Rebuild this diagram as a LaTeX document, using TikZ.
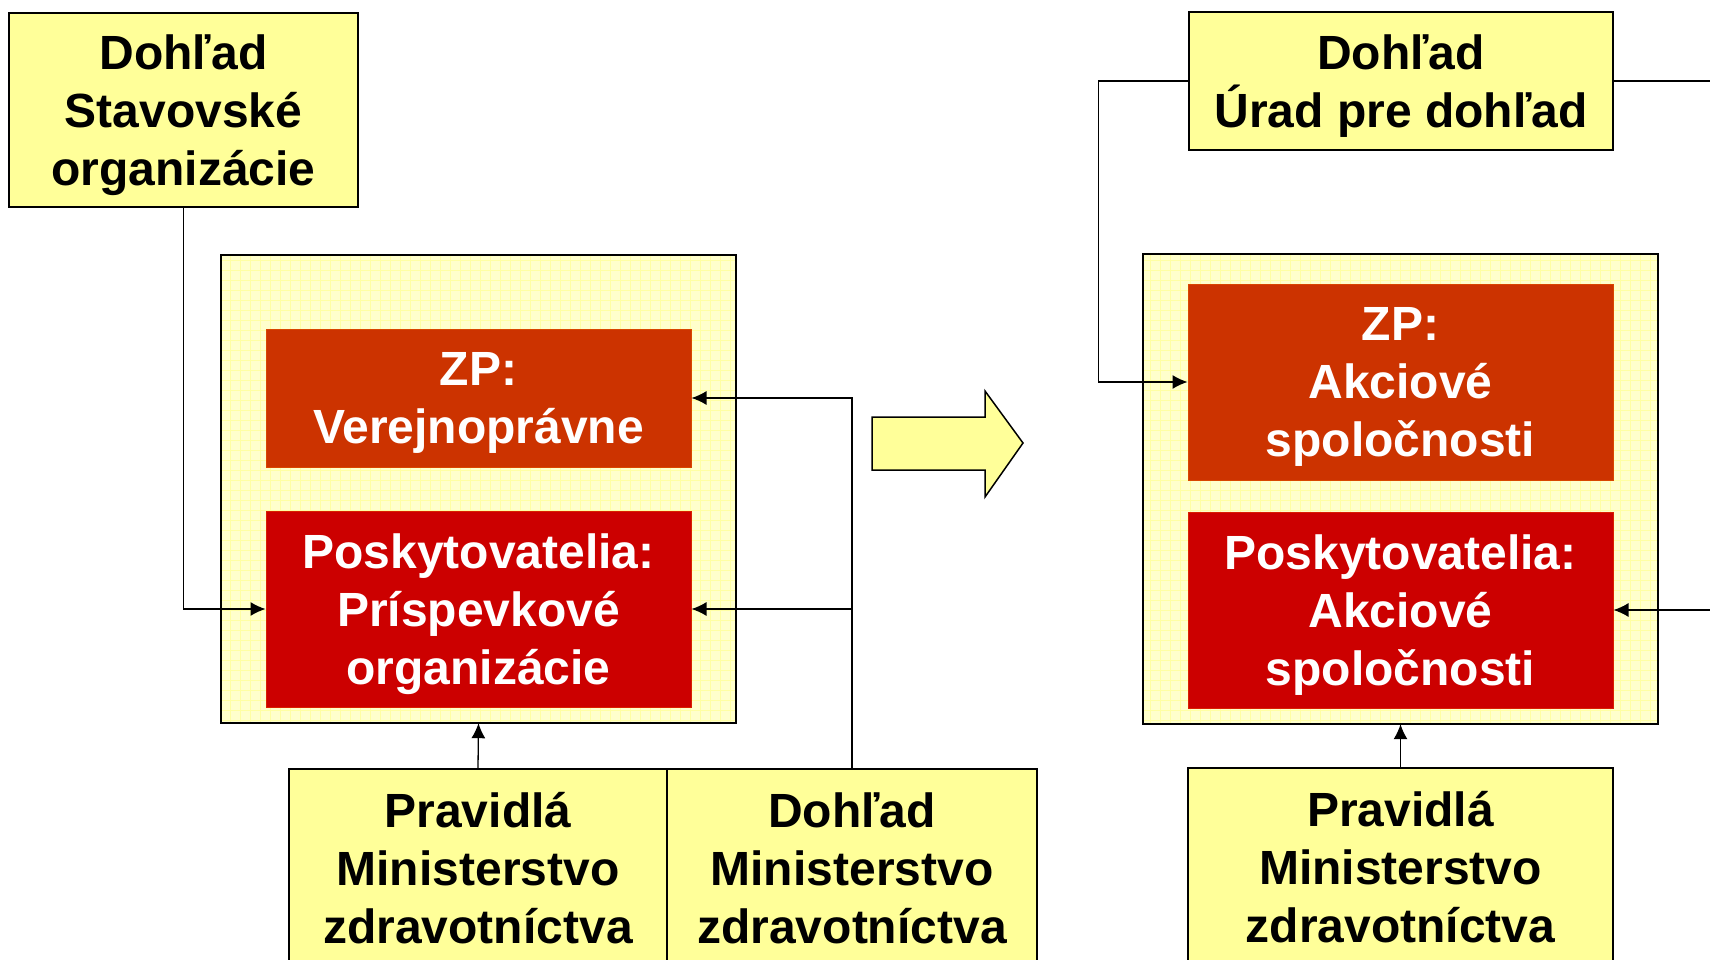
\documentclass[tikz,border=0pt]{standalone}
\usepackage{fontspec}
\setmainfont{Liberation Sans}
\usetikzlibrary{arrows.meta}
\definecolor{boxyel}{HTML}{FFFF99}
\definecolor{paleyel}{HTML}{FFFFCC}
\definecolor{gridyel}{HTML}{FFFFA3}
\definecolor{zpred}{HTML}{CC3300}
\definecolor{poskred}{HTML}{CC0000}
\tikzset{
  bigtext/.style={align=center, text depth=0pt, font=\fontsize{48}{58}\selectfont\bfseries},
  yelbox/.style={bigtext, draw=black, line width=1.5pt, fill=boxyel, inner sep=0pt},
  holder/.style={fill=paleyel, inner sep=0pt},
  redbox/.style={bigtext, draw=#1!75!orange, line width=1pt, fill=#1, text=white, inner sep=0pt,
    minimum width=425},
  link/.style={line width=1.3pt, -{Latex[length=15pt,width=14pt]}},
}
\begin{document}
\begin{tikzpicture}[x=1pt,y=-1pt]
\useasboundingbox (0,0) rectangle (1710,960);
\clip (0,0) rectangle (1710,960);

\node[holder, minimum width=515, minimum height=468] (contL) at (478.5,489) {};
\node[holder, minimum width=515, minimum height=470] (contR) at (1400.5,489) {};
\foreach \c in {contL,contR} {
  \begin{scope}
    \clip (\c.south west) rectangle (\c.north east);
    \draw[gridyel, line width=0.6pt, step=10pt] (\c.south west) grid (\c.north east);
  \end{scope}
  \draw[line width=1.5pt] (\c.south west) rectangle (\c.north east);
}

\node[yelbox, minimum width=349, minimum height=194] (dohStav) at (183.5,110) {Dohľad\\Stavovské\\organizácie};
\node[redbox=zpred, minimum height=138] (zpL) at (478.5,398) {ZP:\\Verejnoprávne};
\node[redbox=poskred, minimum height=196] (poskL) at (478.5,609) {Poskytovatelia:\\Príspevkové\\organizácie};
\node[yelbox, minimum width=378, minimum height=198] (pravL) at (478,868) {Pravidlá\\Ministerstvo\\zdravotníctva};
\node[yelbox, minimum width=370, minimum height=198] (dohMinL) at (852,868) {Dohľad\\Ministerstvo\\zdravotníctva};

\draw[line width=1.5pt, fill=boxyel, line join=miter] (872,417) -- (985,417) -- (985,391) -- (1023,443)
  -- (985,497) -- (985,470) -- (872,470) -- cycle;

\node[yelbox, minimum width=424, minimum height=138] (dohUrad) at (1401,81) {Dohľad\\Úrad pre dohľad};
\node[redbox=zpred, minimum height=196] (zpR) at (1400.5,382) {ZP:\\Akciové\\spoločnosti};
\node[redbox=poskred, minimum height=196] (poskR) at (1400.5,610) {Poskytovatelia:\\Akciové\\spoločnosti};
\node[yelbox, minimum width=425, minimum height=198] (pravR) at (1400.5,867) {Pravidlá\\Ministerstvo\\zdravotníctva};
\coordinate (edgeA) at (1710,81);
\coordinate (edgeB) at (1710,610);

\draw[link] (dohStav.south) |- (poskL.west);
\draw[link] (pravL.north) -- (contL.south);
\draw[link] (dohMinL.north) |- (zpL.east);
\draw[link] (dohMinL.north) |- (poskL.east);

\draw[link] (dohUrad.west) -- ++(-90,0) |- (zpR.west);
\draw[line width=1.3pt] (dohUrad.east) -- (edgeA);
\draw[link] (edgeB) -- (poskR.east);
\draw[link] (pravR.north) -- (contR.south);
\end{tikzpicture}
\end{document}
